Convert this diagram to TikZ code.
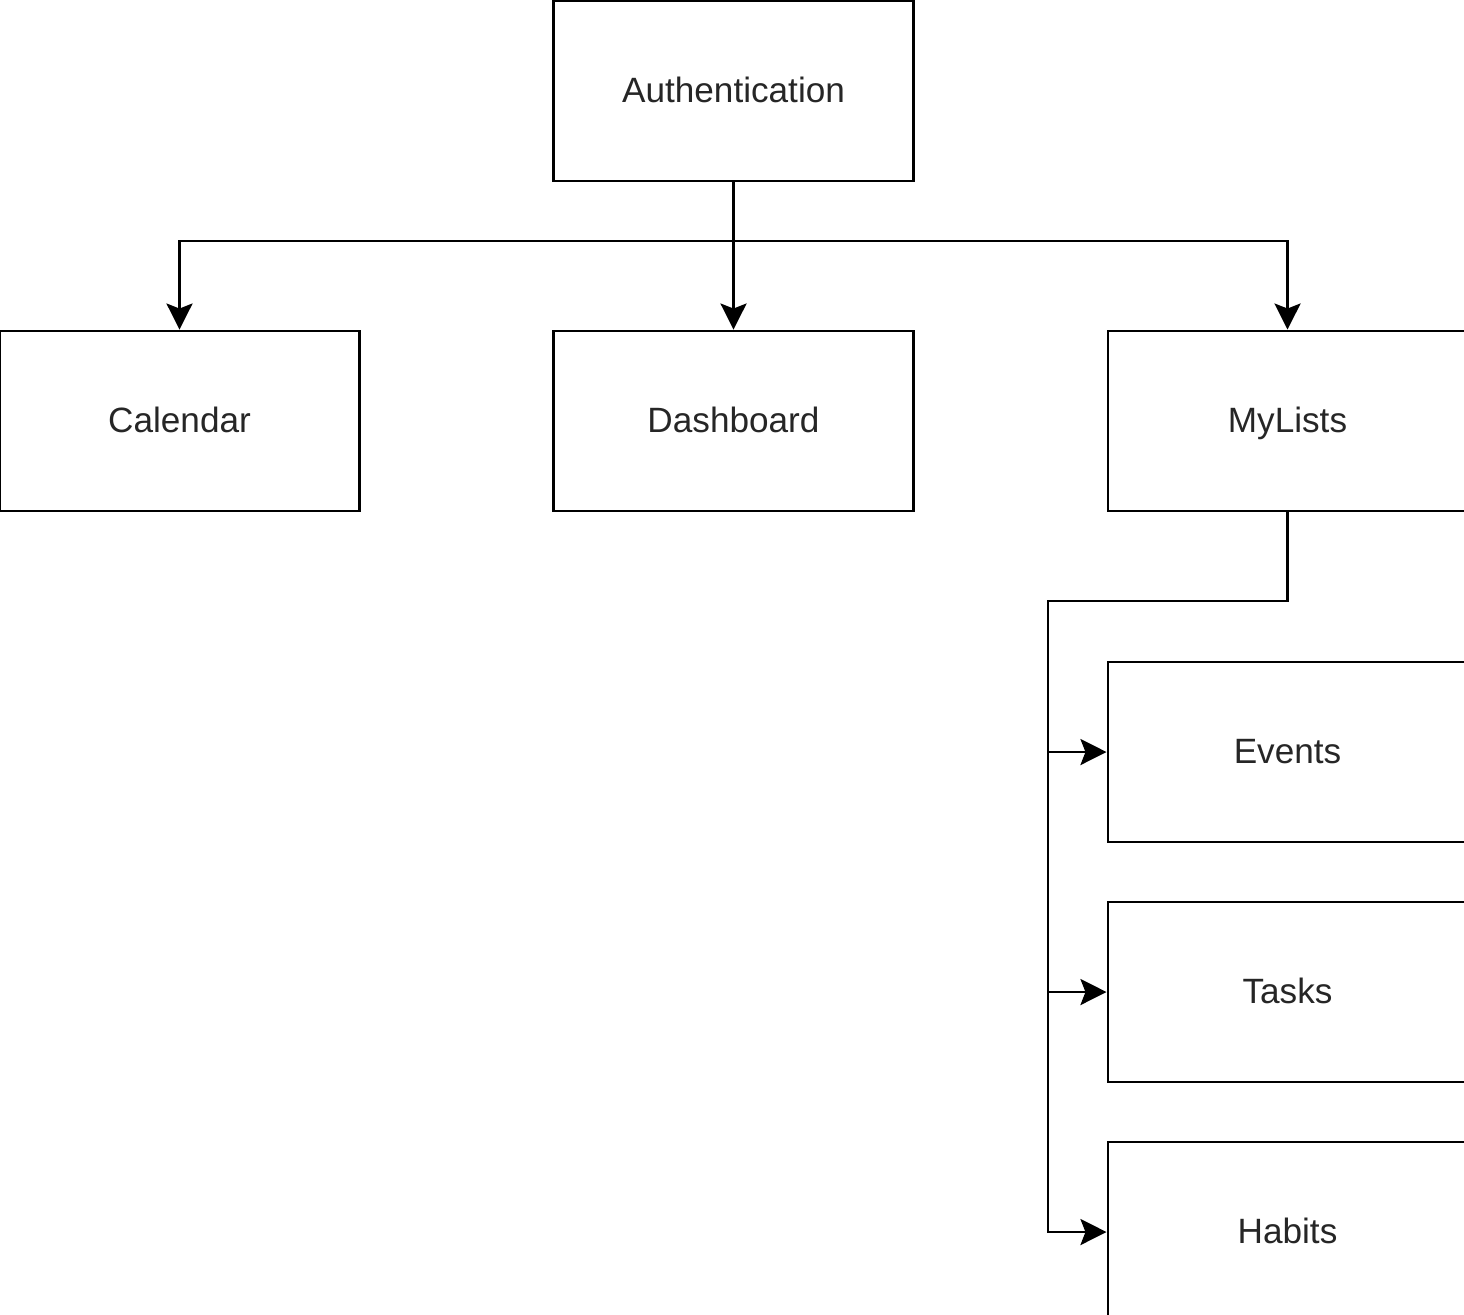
\documentclass[tikz,border=0pt]{standalone}
\usepackage{fontspec}
\setmainfont{Liberation Sans}
\usetikzlibrary{arrows.meta}
\begin{document}
\begin{tikzpicture}[x=0.01cm, y=-0.01cm]
    \tikzstyle{box}=[rectangle, draw, line width=0.8pt, minimum width=3.59cm, minimum height=1.8cm, inner sep=0pt, text height=1.6ex, text depth=0.4ex, font=\fontsize{10}{12}\selectfont, text=black!85]
    \tikzstyle{link}=[line width=0.8pt, -{Stealth[length=0.26cm, width=0.26cm, inset=0.05cm]}]
    \useasboundingbox (0,0) rectangle (1464,1314);

    \node[box] (auth) at (733.5, 91) {Authentication};
    \node[box] (cal) at (179.5, 421) {Calendar};
    \node[box] (dash) at (733.5, 421) {Dashboard};
    \node[box] (lists) at (1287.5, 421) {MyLists};
    \node[box] (events) at (1287.5, 752) {Events};
    \node[box] (tasks) at (1287.5, 992) {Tasks};
    \node[box] (habits) at (1287.5, 1232) {Habits};

    \coordinate (split) at (733.5, 241);
    \coordinate (bend) at (1048, 601);

    \draw[link] (auth) -- (dash);
    \draw[link] (auth.south) -- (split) -| (cal.north);
    \draw[link] (split) -| (lists.north);

    \draw[link] (lists.south) |- (bend) |- (events.west);
    \draw[link] (bend) |- (tasks.west);
    \draw[link] (bend) |- (habits.west);
\end{tikzpicture}
\end{document}
